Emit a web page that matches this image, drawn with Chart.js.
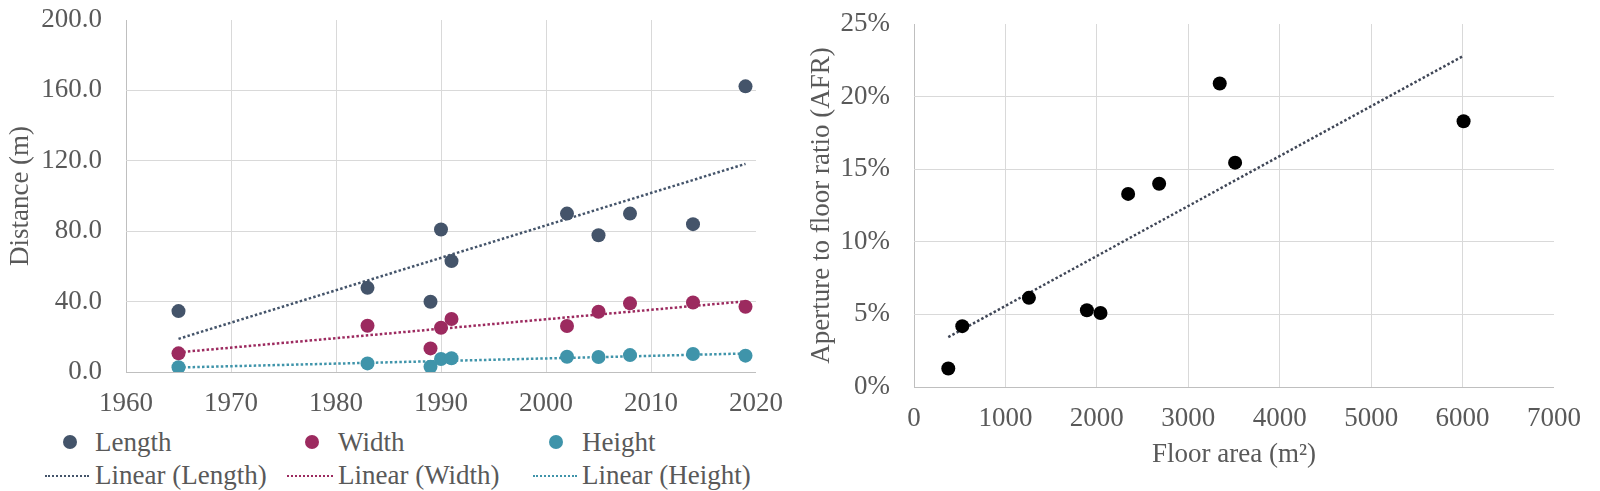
<!DOCTYPE html>
<html>
<head>
<meta charset="utf-8">
<script src="https://cdn.jsdelivr.net/npm/chart.js@4/dist/chart.umd.min.js"></script>
<style>
  html, body { margin: 0; padding: 0; background: #fff; }
  body { width: 1600px; height: 491px; position: relative; overflow: hidden; font-family: "Liberation Serif", "Times New Roman", serif; }
  #dimChart { position: absolute; left: 0; top: 0; }
  #afrChart { position: absolute; left: 780px; top: 0; }
  .leg { position: absolute; font-size: 27px; color: #595959; line-height: 32px; height: 32px; white-space: nowrap; }
  .leg .dot { position: absolute; width: 14px; height: 14px; border-radius: 50%; top: 9px; }
  .leg .dash { position: absolute; top: 16px; height: 0; border-top: 2.5px dotted; }
</style>
</head>
<body>
<canvas id="dimChart" width="800" height="425"></canvas>
<canvas id="afrChart" width="820" height="491"></canvas>
<div id="legend"></div>
<script>
// ── Left chart data: dimensions by year ──
const years   = [1965, 1983, 1989, 1990, 1991, 2002, 2005, 2008, 2014, 2019];
const lengthM = [34.6, 47.8, 39.9, 81.0, 63.0, 90.0, 77.7, 90.0, 84.0, 162.3];
const widthM  = [10.6, 26.3, 13.4, 25.1, 30.1, 26.1, 34.2, 39.0, 39.5, 37.1];
const heightM = [2.7, 4.9, 3.0, 7.4, 7.8, 8.7, 8.5, 9.6, 10.2, 9.3];
const yearTicks = [1960, 1970, 1980, 1990, 2000, 2010, 2020];
const distTicks = [0, 40, 80, 120, 160, 200];

// ── Right chart data: floor area vs AFR ──
const floorArea = [375, 528, 1257, 1891, 2040, 2342, 2681, 3344, 3512, 6011];
const afrPct    = [1.27, 4.19, 6.14, 5.29, 5.10, 13.3, 14.0, 20.9, 15.45, 18.3];
const areaTicks = [0, 1000, 2000, 3000, 4000, 5000, 6000, 7000];
const afrTicks  = [0, 5, 10, 15, 20, 25];

const COL = { length: '#44546a', width: '#9c2a5f', height: '#3f94aa', afr: '#000000', afrTrend: '#3f4656' };
const TXT = '#595959', GRID = '#d9d9d9', AXIS = '#bfbfbf', NONE = 'rgba(0,0,0,0)';
const FONT = { family: '"Liberation Serif", "Times New Roman", serif', size: 27 };

function linReg(xs, ys) {
    const n = xs.length;
    let sx = 0, sy = 0, sxy = 0, sx2 = 0;
    for (let i = 0; i < n; i++) { sx += xs[i]; sy += ys[i]; sxy += xs[i] * ys[i]; sx2 += xs[i] * xs[i]; }
    const d = n * sx2 - sx * sx;
    if (d === 0) return { m: 0, b: sy / n };
    return { m: (n * sxy - sx * sy) / d, b: (sy * sx2 - sx * sxy) / d };
}
function trendPts(xs, ys) {
    const r = linReg(xs, ys);
    const lo = Math.min(...xs), hi = Math.max(...xs);
    return [{ x: lo, y: r.b + r.m * lo }, { x: hi, y: r.b + r.m * hi }];
}
const pts = (xs, ys) => xs.map((x, i) => ({ x, y: ys[i] }));

function scatterSet(label, data, color) {
    return { type: 'scatter', label, data, backgroundColor: color, borderColor: color,
        pointRadius: 7, pointHoverRadius: 7, borderWidth: 0, order: 1 };
}
function trendSet(label, data, color) {
    return { type: 'line', label, data, borderColor: color, borderWidth: 2.5, borderDash: [2.5, 2.2],
        pointRadius: 0, fill: false, tension: 0, order: 2 };
}
const fixW = w => s => { s.width = w; };
const fixH = h => s => { s.height = h; };
const setTicks = list => s => { s.ticks = list.map(v => ({ value: v })); };
// grid colour: hide the max line, darker line at the axis
const gridCol = (axisVal, hideVal) => c => !c.tick ? GRID : c.tick.value === hideVal ? NONE : c.tick.value === axisVal ? AXIS : GRID;
// invisible tick marks give the gap between labels and plot without adding layout padding
const gridOpts = (axisVal, hideVal, gap) => ({ drawTicks: true, tickLength: gap, tickColor: NONE, color: gridCol(axisVal, hideVal) });

// ── Left chart ──
new Chart(document.getElementById('dimChart'), {
    type: 'scatter',
    data: { datasets: [
        scatterSet('Length', pts(years, lengthM), COL.length),
        scatterSet('Width', pts(years, widthM), COL.width),
        scatterSet('Height', pts(years, heightM), COL.height),
        trendSet('Linear (Length)', trendPts(years, lengthM), COL.length),
        trendSet('Linear (Width)', trendPts(years, widthM), COL.width),
        trendSet('Linear (Height)', trendPts(years, heightM), COL.height),
    ] },
    options: {
        responsive: false, animation: false, events: [],
        layout: { padding: { top: 20, right: 44, bottom: 0, left: 0 } },
        scales: {
            x: { type: 'linear', min: 1960, max: 2020, afterFit: fixH(53), afterBuildTicks: setTicks(yearTicks),
                ticks: { font: FONT, color: TXT, padding: 2, callback: v => String(v) },
                grid: gridOpts(1960, 2020, 14), border: { display: false } },
            y: { type: 'linear', min: 0, max: 200, afterFit: fixW(126), afterBuildTicks: setTicks(distTicks),
                ticks: { font: FONT, color: TXT, padding: 2, callback: v => v.toFixed(1) },
                grid: gridOpts(0, 200, 22), border: { display: false },
                title: { display: true, text: 'Distance (m)', font: FONT, color: TXT, padding: { top: 5, bottom: 4 } } }
        },
        plugins: { legend: { display: false }, tooltip: { enabled: false } }
    }
});

// ── Right chart ──
new Chart(document.getElementById('afrChart'), {
    type: 'scatter',
    data: { datasets: [
        scatterSet('AFR', pts(floorArea, afrPct), COL.afr),
        trendSet('Linear (AFR)', trendPts(floorArea, afrPct), COL.afrTrend),
    ] },
    options: {
        responsive: false, animation: false, events: [],
        layout: { padding: { top: 24, right: 46, bottom: 0, left: 0 } },
        scales: {
            x: { type: 'linear', min: 0, max: 7000, afterFit: fixH(104), afterBuildTicks: setTicks(areaTicks),
                ticks: { font: FONT, color: TXT, padding: 2, callback: v => String(v) },
                grid: gridOpts(0, 7000, 14), border: { display: false },
                title: { display: true, text: 'Floor area (m²)', font: FONT, color: TXT, padding: { top: 4, bottom: 20 } } },
            y: { type: 'linear', min: 0, max: 25, afterFit: fixW(134), afterBuildTicks: setTicks(afrTicks),
                ticks: { font: FONT, color: TXT, padding: 2, callback: v => v + '%' },
                grid: gridOpts(0, 25, 22), border: { display: false },
                title: { display: true, text: 'Aperture to floor ratio (AFR)', font: FONT, color: TXT, padding: { top: 26, bottom: 4 } } }
        },
        plugins: { legend: { display: false }, tooltip: { enabled: false } }
    }
});

// ── Legend (Excel style, 3 columns x 2 rows) ──
const legendItems = [
    { text: 'Length', kind: 'dot', color: COL.length, x: 95, y: 426, mx: 63 },
    { text: 'Width', kind: 'dot', color: COL.width, x: 338, y: 426, mx: 305 },
    { text: 'Height', kind: 'dot', color: COL.height, x: 582, y: 426, mx: 549 },
    { text: 'Linear (Length)', kind: 'dash', color: COL.length, x: 95, y: 459, mx: 45, mw: 44 },
    { text: 'Linear (Width)', kind: 'dash', color: COL.width, x: 338, y: 459, mx: 287, mw: 46 },
    { text: 'Linear (Height)', kind: 'dash', color: COL.height, x: 582, y: 459, mx: 533, mw: 44 },
];
document.getElementById('legend').innerHTML = legendItems.map(it => {
    const mark = it.kind === 'dot'
        ? `<span class="dot" style="left:${it.mx - it.x}px;background:${it.color}"></span>`
        : `<span class="dash" style="left:${it.mx - it.x}px;width:${it.mw}px;border-color:${it.color}"></span>`;
    return `<div class="leg" style="left:${it.x}px;top:${it.y}px">${mark}${it.text}</div>`;
}).join('');
</script>
</body>
</html>
